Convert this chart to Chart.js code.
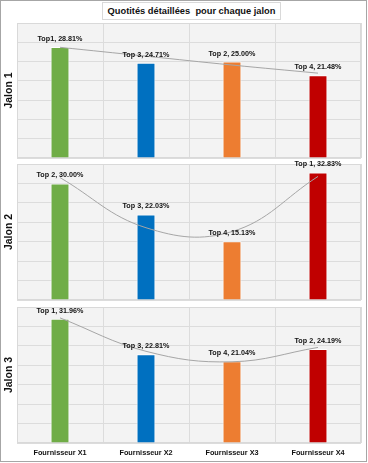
<!DOCTYPE html>
<html>
<head>
<meta charset="utf-8">
<script src="https://cdn.jsdelivr.net/npm/chart.js@4"></script>
<style>
  html, body { margin: 0; padding: 0; background: #fff; }
  #page { position: relative; width: 368px; height: 463px; overflow: hidden; }
  #frame { position: absolute; left: 0; top: 0; width: 365px; height: 460px; border: 1px solid #a6a6a6; box-sizing: content-box; pointer-events: none; }
  .panel { position: absolute; left: 0; width: 368px; }
  #title {
    position: absolute; left: 102px; top: 2px; width: 179px; height: 18px;
    border: 1px solid #d9d9d9; background: #fff; box-sizing: border-box;
    font: bold 9.3px "Liberation Sans", Arial, sans-serif; color: #111;
    text-align: center; line-height: 17px; white-space: pre;
  }
</style>
</head>
<body>
<div id="page">
  <div class="panel" style="top:0px;height:160px"><canvas id="chart1"></canvas></div>
  <div class="panel" style="top:150px;height:152px"><canvas id="chart2"></canvas></div>
  <div class="panel" style="top:295px;height:168px"><canvas id="chart3"></canvas></div>
  <div id="title">Quotités détaillées  pour chaque jalon</div>
  <div id="frame"></div>
</div>
<script>
const suppliers = ['Fournisseur X1', 'Fournisseur X2', 'Fournisseur X3', 'Fournisseur X4'];
const barColors = ['#70ad47', '#0070c0', '#ed7d31', '#c00000'];

const jalon1Values = [28.81, 24.71, 25.00, 21.48];
const jalon1Ranks = ['Top1', 'Top 3', 'Top 2', 'Top 4'];
const jalon1Trend = [28.7, 26.4, 24.1, 22.0];

const jalon2Values = [30.00, 22.03, 15.13, 32.83];
const jalon2Ranks = ['Top 2', 'Top 3', 'Top 4', 'Top 1'];
const jalon2Trend = [31.5, 18.6, 17.6, 31.8];

const jalon3Values = [31.96, 22.81, 21.04, 24.19];
const jalon3Ranks = ['Top 1', 'Top 3', 'Top 4', 'Top 2'];
const jalon3Trend = [32.2, 23.6, 20.9, 24.6];

const yTicks = [0, 5, 10, 15, 20, 25, 30, 35];

// grey plot area, light border drawn before the bars so labels stay on top
const plotBackground = {
  id: 'plotBackground',
  beforeDraw(chart) {
    const { ctx, chartArea: a } = chart;
    ctx.save();
    ctx.fillStyle = '#f3f3f3';
    ctx.fillRect(a.left, a.top, a.right - a.left, a.bottom - a.top);
    ctx.restore();
  },
  beforeDatasetsDraw(chart) {
    const { ctx, chartArea: a } = chart;
    ctx.save();
    ctx.strokeStyle = '#d9d9d9';
    ctx.lineWidth = 1;
    ctx.strokeRect(a.left + 0.5, a.top + 0.5, a.right - a.left - 1, a.bottom - a.top - 1);
    ctx.restore();
  }
};

const barLabels = {
  id: 'barLabels',
  afterDatasetsDraw(chart) {
    const { ctx } = chart;
    const ranks = chart.options.plugins.barLabels.ranks;
    const meta = chart.getDatasetMeta(0);
    const values = chart.data.datasets[0].data;
    ctx.save();
    ctx.font = 'bold 7.2px "Liberation Sans", Arial, sans-serif';
    ctx.fillStyle = '#111';
    ctx.textAlign = 'center';
    ctx.textBaseline = 'middle';
    meta.data.forEach((bar, i) => {
      ctx.fillText(ranks[i] + ', ' + values[i].toFixed(2) + '%', bar.x, bar.y - 8);
    });
    ctx.restore();
  }
};

function makeChart(id, title, values, ranks, trend, padTop, padBottom, showX) {
  return new Chart(document.getElementById(id), {
    type: 'bar',
    data: {
      labels: suppliers,
      datasets: [{
        data: values,
        backgroundColor: barColors,
        borderColor: 'rgba(255,255,255,0.85)',
        borderWidth: 1,
        barPercentage: 0.22,
        categoryPercentage: 1,
        order: 2
      }, {
        type: 'line',
        data: trend,
        borderColor: '#a6a6a6',
        borderWidth: 1,
        pointRadius: 0,
        tension: 0.4,
        fill: false,
        order: 1
      }]
    },
    options: {
      responsive: true,
      maintainAspectRatio: false,
      devicePixelRatio: 1,
      animation: false,
      layout: { padding: { top: padTop, bottom: padBottom, left: 0, right: 7 } },
      plugins: {
        legend: { display: false },
        tooltip: { enabled: false },
        barLabels: { ranks: ranks }
      },
      scales: {
        x: {
          grid: { color: '#dcdcdc', drawTicks: false },
          border: { display: false },
          ticks: {
            display: showX,
            padding: 6,
            color: '#111',
            font: { family: '"Liberation Sans", Arial, sans-serif', size: 7.3, weight: 'bold' }
          },
          afterFit: (scale) => { if (showX) scale.height = 17; }
        },
        y: {
          min: yTicks[0],
          max: yTicks[yTicks.length - 1],
          afterBuildTicks: (scale) => { scale.ticks = yTicks.map(v => ({ value: v })); },
          grid: { color: '#dcdcdc', drawTicks: false },
          border: { display: false },
          ticks: { display: false },
          title: {
            display: true,
            text: title,
            color: '#111',
            padding: { top: 3, bottom: 0 },
            font: { family: '"Liberation Sans", Arial, sans-serif', size: 10.5, weight: 'bold' }
          },
          afterFit: (scale) => { scale.width = 17; }
        }
      }
    },
    plugins: [plotBackground, barLabels]
  });
}

makeChart('chart1', 'Jalon 1', jalon1Values, jalon1Ranks, jalon1Trend, 23, 2, false);
makeChart('chart2', 'Jalon 2', jalon2Values, jalon2Ranks, jalon2Trend, 14, 2, false);
makeChart('chart3', 'Jalon 3', jalon3Values, jalon3Ranks, jalon3Trend, 12, 3, true);
</script>
</body>
</html>
